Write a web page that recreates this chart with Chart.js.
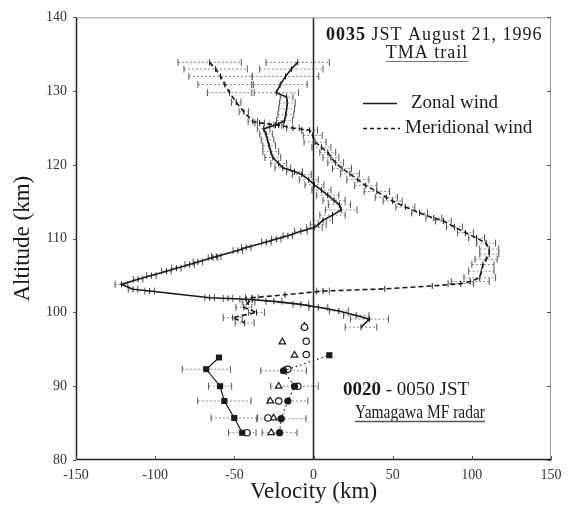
<!DOCTYPE html>
<html><head><meta charset="utf-8">
<script src="https://cdn.jsdelivr.net/npm/chart.js@4.4.0/dist/chart.umd.min.js"></script>
<style>html,body{margin:0;padding:0;background:#fff;}canvas{display:block;}</style>
</head><body>
<canvas id="c" width="569" height="511"></canvas>
<script>
// ---- axis ticks ----
const xTickValues = [-150, -100, -50, 0, 50, 100, 150];
const yTickValues = [80, 90, 100, 110, 120, 130, 140];

// ---- TMA trail, zonal wind (km altitude, m/s velocity, error half-width) ----
const zonalAlt = [133.9,133.0,132.0,130.9,129.8,129.2,128.4,127.6,126.8,126.0,125.4,124.9,124.2,123.4,122.6,121.8,121.0,120.2,119.6,119.1,118.7,118.0,117.3,116.6,115.9,115.2,114.6,113.9,113.2,112.5,111.9,111.5,111.0,110.4,109.95,109.55,108.8,108.4,107.6,107.45,106.85,106.5,106.0,105.6,105.0,104.5,103.8,103.15,102.9,102.0,101.9,101.8,101.5,101.1,100.7,100.2,99.6,99.1,98.0];
const zonalVel = [-10,-14,-17.7,-21,-23.5,-17,-16.5,-17,-17.5,-18.3,-24,-31.5,-30,-29,-28,-27,-25.7,-22,-19.4,-12,-7.4,-3,0.6,5,9,13,16.4,17.5,12,6,3,0.5,-8,-16.2,-23.5,-29.8,-42.5,-47.8,-61.4,-63.5,-73,-78.2,-86.6,-92.9,-102.4,-110.8,-121.3,-114,-103.5,-65.6,-54,-42.5,-25,-8,3,16,27,35.3,30];
const zonalErr = [20,20,21,17,14,4,5,5,5,5,4,4,4,4,4,5,5,5,5,5,6,6,6,6,7,7,7,10,8,6,5,5,4,3,3,3,3,3,3,3,3,3,3,3,3,3,4,3,3,3,3,4,5,5,6,6,8,12,10];

// ---- TMA trail, meridional wind ----
const meridAlt = [133.9,133.0,132.0,130.9,129.8,128.5,127.2,125.9,125.7,125.4,125.0,124.7,124.0,123.1,122.4,121.7,121.0,120.3,119.5,118.8,118.0,117.2,116.4,115.6,115.1,114.3,113.5,112.8,112.4,111.6,110.8,110.1,109.4,108.6,107.9,107.2,106.5,105.6,104.7,104.2,103.9,103.6,103.2,102.9,102.4,102.0,101.4,100.7,100.0,99.3,98.6];
const meridVel = [-65.6,-61.8,-58.7,-56,-53,-48.8,-44,-38.3,-34,-22,-13,-2.5,-0.5,1,5,9,11,14,18,23,28,33,40,46,50,58,67,76,82,89,96,103,109,111,111,109,107,106,105,99,93,75,45,6,-18,-39,-41,-44,-36,-51,-43.5];
const meridErr = [20,20,20,17,14,3,3,3,3,3,4,5,6,7,6,5,5,5,6,6,7,7,8,7,6,6,5,5,5,5,5,5,6,6,6,7,7,8,10,12,8,0,0,4,0,4,4,5,5,6,6];

// ---- Yamagawa MF radar (0020-0050 JST) ----
const radarZAlt = [83.7, 85.7, 88.0, 90.0, 92.3, 93.9];
const radarZVel = [-45, -50, -56.3, -59, -67.7, -59.7];
const radarZErr = [8.7, 14.7, 16.8, 7.3, 15.2, 0];
const radarMAlt = [83.7, 85.6, 88.0, 90.0, 92.1, 94.2];
const radarMVel = [-21.4, -20.4, -16.2, -12, -18.9, 10];
const radarMErr = [11, 15.7, 12.6, 15, 14.4, 0];
const circAlt = [83.7, 85.7, 88.0, 90.0, 92.3, 94.3, 96.1, 98.0];
const circVel = [-42, -28.8, -22, -9.9, -16.2, -4.6, -4.6, -5.7];
const triAlt = [83.7, 85.7, 88.0, 90.0, 92.1, 94.2, 96.0, 98.1];
const triVel = [-26.7, -25.2, -27.3, -22, -18.3, -12, -19.7, -5.7];

const pts = (alts, vels) => alts.map((a, i) => ({x: vels[i], y: a}));
function errSegs(alts, vels, errs) {
  const d = [];
  alts.forEach((a, i) => {
    if (!errs[i]) return;
    d.push({x: vels[i] - errs[i], y: a}, {x: vels[i] + errs[i], y: a}, {x: vels[i], y: null});
  });
  return d;
}
const INK = '#1a1a1a';
const errStyle = {
  showLine: true, spanGaps: false, borderColor: '#8a8a8a', borderWidth: 1, borderDash: [2, 2],
  pointStyle: 'line', rotation: 90, pointRadius: 3.5, pointBorderColor: '#555', pointBorderWidth: 1
};
const SERIF = '"Liberation Serif", "Times New Roman", serif';

const frame = {
  id: 'frame',
  afterDatasetsDraw(chart) {
    const {ctx, chartArea: a, scales: {x, y}} = chart;
    ctx.save();
    ctx.strokeStyle = '#9a9a9a'; ctx.lineWidth = 1;
    ctx.beginPath();
    ctx.moveTo(a.left, a.top + 0.5); ctx.lineTo(a.right - 0.5, a.top + 0.5); ctx.lineTo(a.right - 0.5, a.bottom);
    ctx.stroke();
    ctx.strokeStyle = '#222'; ctx.lineWidth = 1.5;
    ctx.beginPath();
    ctx.moveTo(a.left + 0.5, a.top); ctx.lineTo(a.left + 0.5, a.bottom - 0.5); ctx.lineTo(a.right, a.bottom - 0.5);
    ctx.stroke();
    ctx.lineWidth = 1; ctx.strokeStyle = '#555';
    xTickValues.forEach(v => {
      const px = Math.round(x.getPixelForValue(v)) + 0.5;
      ctx.beginPath(); ctx.moveTo(px, a.bottom); ctx.lineTo(px, a.bottom - 4); ctx.stroke();
    });
    yTickValues.forEach(v => {
      const py = Math.round(y.getPixelForValue(v)) + 0.5;
      ctx.beginPath(); ctx.moveTo(a.left - 3, py); ctx.lineTo(a.left, py); ctx.stroke();
      ctx.beginPath(); ctx.moveTo(a.right - 4, py); ctx.lineTo(a.right, py); ctx.stroke();
    });
    // texts
    ctx.fillStyle = INK; ctx.textBaseline = 'middle'; ctx.textAlign = 'left';
    const runs = (list, x0, y0, spacing) => {
      ctx.letterSpacing = spacing || '0px';
      let cx = x0;
      list.forEach(([font, t]) => { ctx.font = font; ctx.fillText(t, cx, y0); cx += ctx.measureText(t).width; });
      ctx.letterSpacing = '0px';
      return cx;
    };
    runs([['bold 18px ' + SERIF, '0035'], ['18px ' + SERIF, ' JST August 21, 1996']], 326, 35, '1px');
    ctx.letterSpacing = '1px';
    ctx.font = '18px ' + SERIF;
    const tw = ctx.measureText('TMA trail').width;
    ctx.fillText('TMA trail', 427 - tw / 2, 53);
    ctx.letterSpacing = '0px';
    ctx.strokeStyle = '#777'; ctx.lineWidth = 1;
    ctx.beginPath(); ctx.moveTo(427 - tw / 2, 61.5); ctx.lineTo(427 + tw / 2, 61.5); ctx.stroke();
    // legend
    ctx.strokeStyle = INK; ctx.lineWidth = 1.3;
    ctx.beginPath(); ctx.moveTo(363, 103.5); ctx.lineTo(397, 103.5); ctx.stroke();
    ctx.setLineDash([4, 3]);
    ctx.beginPath(); ctx.moveTo(363, 128.5); ctx.lineTo(400, 128.5); ctx.stroke();
    ctx.setLineDash([]);
    ctx.font = '19px ' + SERIF;
    ctx.fillText('Zonal wind', 411, 103);
    ctx.fillText('Meridional wind', 405, 128);
    // radar label
    runs([['bold 19px ' + SERIF, '0020'], ['19px ' + SERIF, ' - 0050 JST']], 343, 390);
    ctx.font = '18px ' + SERIF;
    const yw = ctx.measureText('Yamagawa MF radar').width * 0.86;
    ctx.save();
    ctx.translate(355, 413); ctx.scale(0.86, 1);
    ctx.fillText('Yamagawa MF radar', 0, 0);
    ctx.restore();
    ctx.strokeStyle = '#555';
    ctx.beginPath(); ctx.moveTo(355, 421.5); ctx.lineTo(355 + yw, 421.5); ctx.stroke();
    ctx.restore();
  }
};

new Chart(document.getElementById('c'), {
  type: 'scatter',
  data: {
    datasets: [
      {label: 'zero', data: [{x: 0, y: 80}, {x: 0, y: 140}], showLine: true, borderColor: '#222', borderWidth: 1.5, pointRadius: 0},
      {label: 'Zonal wind', data: pts(zonalAlt, zonalVel), showLine: true, borderColor: INK, borderWidth: 1.6,
        pointStyle: 'line', rotation: 90, pointRadius: 3, pointBorderColor: INK, pointBorderWidth: 1},
      {label: 'Meridional wind', data: pts(meridAlt, meridVel), showLine: true, borderColor: INK, borderWidth: 1.6, borderDash: [5, 3],
        pointStyle: 'line', rotation: 90, pointRadius: 3, pointBorderColor: INK, pointBorderWidth: 1},
      {label: 'MF zonal', data: pts(radarZAlt, radarZVel), showLine: true, borderColor: INK, borderWidth: 1.2,
        pointStyle: 'rect', pointRadius: 3.5, backgroundColor: INK, pointBackgroundColor: INK, pointBorderColor: INK},
      {label: 'MF meridional', data: pts(radarMAlt, radarMVel), showLine: true, borderColor: INK, borderWidth: 1.2, borderDash: [1.5, 3],
        pointStyle: ['circle','circle','circle','circle','circle','rect'], pointRadius: [3,3,3,3,3,3.5], pointBackgroundColor: INK, pointBorderColor: INK},
      {label: 'circles', data: pts(circAlt, circVel), showLine: false,
        pointStyle: 'circle', pointRadius: 3.2, pointBackgroundColor: '#fff', pointBorderColor: INK, pointBorderWidth: 1.2},
      {label: 'triangles', data: pts(triAlt, triVel), showLine: false,
        pointStyle: 'triangle', pointRadius: 3.8, pointBackgroundColor: '#fff', pointBorderColor: INK, pointBorderWidth: 1.2},
      Object.assign({label: 'zonal err', data: errSegs(zonalAlt, zonalVel, zonalErr)}, errStyle),
      Object.assign({label: 'merid err', data: errSegs(meridAlt, meridVel, meridErr)}, errStyle),
      Object.assign({label: 'mf z err', data: errSegs(radarZAlt, radarZVel, radarZErr)}, errStyle),
      Object.assign({label: 'mf m err', data: errSegs(radarMAlt, radarMVel, radarMErr)}, errStyle)
    ]
  },
  options: {
    responsive: false, animation: false, devicePixelRatio: 1,
    layout: {padding: {left: 0, right: 18, top: 15, bottom: 0}},
    plugins: {legend: {display: false}, tooltip: {enabled: false}},
    scales: {
      x: {
        type: 'linear', min: -150, max: 150,
        afterBuildTicks: s => { s.ticks = xTickValues.map(v => ({value: v})); },
        ticks: {font: {family: SERIF, size: 14}, color: '#333', padding: 7},
        grid: {display: false, drawTicks: false}, border: {display: false},
        title: {display: true, text: 'Velocity (km)', font: {family: SERIF, size: 23}, color: INK, padding: {top: 0, bottom: 5}},
        afterFit: s => { s.height = 51; }
      },
      y: {
        type: 'linear', min: 80, max: 140,
        afterBuildTicks: s => { s.ticks = yTickValues.map(v => ({value: v})); },
        ticks: {font: {family: SERIF, size: 14}, color: '#333', padding: 9},
        grid: {display: false, drawTicks: false}, border: {display: false},
        title: {display: true, text: 'Altitude (km)', font: {family: SERIF, size: 23}, color: INK, padding: {top: 9, bottom: 0}},
        afterFit: s => { s.width = 76; }
      }
    }
  },
  plugins: [frame]
});
</script>
</body></html>
